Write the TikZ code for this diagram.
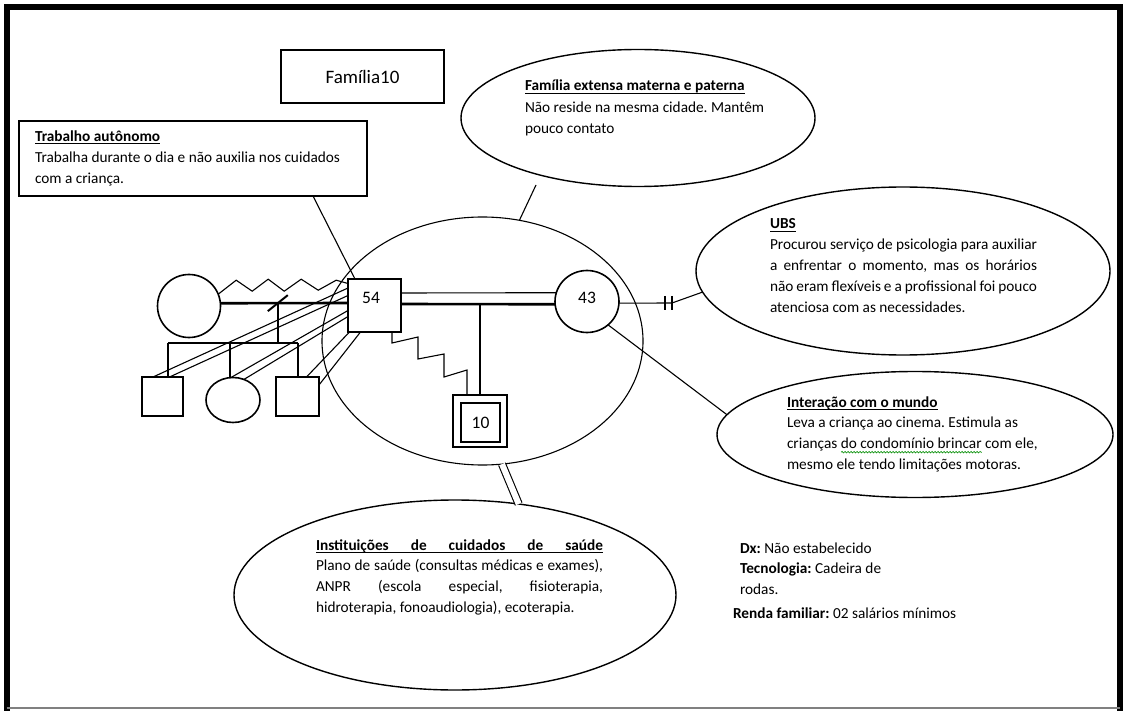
\documentclass[tikz,border=0pt]{standalone}
\usepackage{fontspec}
\setmainfont{Carlito}
\usetikzlibrary{shapes.geometric,calc,decorations.pathmorphing}

% natural interword spaces (the align key fixes them otherwise)
\newcommand{\plainsp}{\spaceskip=0pt\xspaceskip=0pt\frenchspacing}
% underlined heading: a rule at a fixed distance below the baseline
\newsavebox{\ulheadbox}
\newcommand{\ulhead}[1]{\sbox{\ulheadbox}{#1}\rlap{\rule[-2.6pt]{\wd\ulheadbox}{0.9pt}}\usebox{\ulheadbox}}
% green wavy underline under a group of words
\newsavebox{\squigbox}
\newlength{\squiglen}
\newcommand{\squig}[1]{\sbox{\squigbox}{#1}\setlength{\squiglen}{\wd\squigbox}%
  \rlap{\tikz[baseline=0pt]\draw[green!55!black,line width=0.6pt,decorate,
    decoration={snake,amplitude=0.8pt,segment length=3pt}] (0pt,-3.6pt) -- (\squiglen,-3.6pt);}%
  \usebox{\squigbox}}

\begin{document}
\begin{tikzpicture}[x=1pt,y=-1pt,
  every node/.style={inner sep=0pt,outer sep=0pt},
  body/.style={font=\fontsize{15.3}{20.8}\selectfont},
  txt/.style={body,align=left,anchor=base west},
  ln/.style={line width=1.1pt},
  thk/.style={line width=2.6pt},
  med/.style={line width=2pt},
  bubble/.style={draw,ellipse,line width=1.4pt},
  gsq/.style={draw,rectangle,line width=1.6pt,fill=white},
  gcirc/.style={draw,ellipse,line width=1.6pt,fill=white},
  num/.style={font=\fontsize{17.5}{18}\selectfont}]

\useasboundingbox (0,0) rectangle (1127,711);
\fill[white] (0,0) rectangle (1127,711);

% page frame
\draw[line width=6pt,line join=miter] (6.5,711) -- (6.5,7.5) -- (1120,7.5) -- (1120,711);
\draw[line width=2pt,black!50] (6.5,708) -- (1120,708);

% title and the work box
\node[draw,line width=1.2pt,minimum width=163,minimum height=53,
      font=\fontsize{19}{22}\selectfont] (title) at (362.5,76.5) {Família10};
\node[draw,line width=1.3pt,anchor=north west,minimum width=348,minimum height=75,
      text width=316,inner xsep=16,align=left,body] (trab) at (19,121)
  {\plainsp\ulhead{\textbf{Trabalho autônomo}}\\
   \mbox{Trabalha durante o dia e não auxilia nos cuidados}\\
   com a criança.};

% eco-map circles
\node[bubble,minimum width=354,minimum height=137] (ext) at (638,118) {};
\node[bubble,minimum width=414,minimum height=168] (ubs) at (903,271) {};
\node[bubble,line width=1.1pt,minimum width=321,minimum height=248] (central) at (482.5,341) {};
\node[bubble,minimum width=396,minimum height=126] (inter) at (915,434.5) {};
\node[bubble,minimum width=442,minimum height=190] (inst) at (455,595) {};

% texts of the circles
\node[txt,text width=300,font=\fontsize{15.3}{21.5}\selectfont] (exttxt) at (525,91)
  {\plainsp\ulhead{\textbf{Família extensa materna e paterna}}\\
   Não reside na mesma cidade. Mantêm\\
   pouco contato};
\node[txt,text width=267] (ubstxt) at (770,229)
  {\plainsp\ulhead{\textbf{UBS}}\\
   \makebox[\linewidth][s]{Procurou serviço de psicologia para auxiliar}\\
   \makebox[\linewidth][s]{a enfrentar o momento, mas os horários}\\
   \makebox[\linewidth][s]{não eram flexíveis e a profissional foi pouco}\\
   atenciosa com as necessidades.};
\node[txt,text width=300] (intertxt) at (787,407)
  {\plainsp\ulhead{\textbf{Interação com o mundo}}\\
   Leva a criança ao cinema. Estimula as\\
   crianças \squig{do condomínio brincar} com ele,\\
   mesmo ele tendo limitações motoras.};
\node[txt,text width=287] (insttxt) at (316,550)
  {\plainsp\ulhead{\makebox[\linewidth][s]{\textbf{Instituições de cuidados de saúde}}}\\
   \makebox[\linewidth][s]{Plano de saúde (consultas médicas e exames),}\\
   \makebox[\linewidth][s]{ANPR (escola especial, fisioterapia,}\\
   hidroterapia, fonoaudiologia), ecoterapia.};
\node[txt,text width=220] (dx) at (740,553)
  {\plainsp\textbf{Dx:} Não estabelecido\\
   \textbf{Tecnologia:} Cadeira de\\
   rodas.};
\node[txt,text width=300] (renda) at (733,618)
  {\plainsp\textbf{Renda familiar:} 02 salários mínimos};

% genogram members
\node[gsq,minimum width=53,minimum height=53] (p54) at (374.5,305.5) {};
\node[num] (t54) at (371,298) {54};
\node[gcirc,minimum width=64,minimum height=62] (p43) at (587,301.5) {};
\node[num] (t43) at (587,298) {43};
\node[gsq,minimum width=54,minimum height=52] (c10) at (480,421) {};
\node[gsq,minimum width=39,minimum height=39,num] (c10in) at (480.5,422.5) {10};
\node[gcirc,minimum width=63,minimum height=63] (w1) at (189,306) {};
\node[gsq,minimum width=41,minimum height=39] (k1) at (162.5,396.5) {};
\node[gcirc,minimum width=54,minimum height=45] (k2) at (233,400) {};
\node[gsq,minimum width=43,minimum height=39] (k3) at (297.5,396.5) {};

% first union, separated, and its children
\draw[thk] (w1.5.5) -- ([yshift=2.5pt]p54.west);
\coordinate (cpl) at ($(w1.5.5)!0.45!([yshift=2.5pt]p54.west)$);
\coordinate (sib) at ([yshift=-40pt]cpl);
\draw[med] ($(cpl)+(-10,8)$) -- ($(cpl)+(10,-8)$);
\draw[thk] (cpl) -- (sib);
\draw[thk] ([xshift=-109.5pt]sib) -- ([xshift=20.5pt]sib);
\draw[med] ([xshift=5.5pt]k1.north |- sib) -- ([xshift=5.5pt]k1.north);
\draw[med] ([xshift=-3pt]k2.north |- sib) -- ([xshift=-3pt]k2.north);
\draw[med] (k3.north |- sib) -- (k3.north);
\draw[ln] (w1.22) -- ++(18,-14) -- ++(16,11) -- ++(16,-12) -- ++(16,12)
  -- ++(17,-12) -- ++(17,11) -- ++(18,-10) -- ([yshift=22pt]p54.west);

% father to each child of the first union
\draw[ln] ([yshift=17.5pt]p54.west) -- ([xshift=-9.5pt]k1.north);
\draw[ln] ([yshift=10pt]p54.west) -- ([xshift=7pt]k1.north);
\draw[ln] ([yshift=-5pt]p54.west) -- ([xshift=-2pt]k2.north);
\draw[ln] ([yshift=-11pt]p54.west) -- (k2.62);
\draw[ln] ([xshift=-25pt]p54.south) -- ([xshift=9pt]k3.north);
\draw[ln] ([xshift=-14pt]p54.south) -- ([yshift=-8pt]k3.north east);

% current union and the child
\draw[ln] ([yshift=12.5pt]p54.east) -- (p43.164);
\draw[thk] ([yshift=1.5pt]p54.east) -- (p43.185);
\draw[thk] (c10.north |- p43.185) -- (c10.north);
\draw[ln] ([xshift=17.5pt]p54.south) -- ++(0,11) -- ++(26,-6) -- ++(0,22)
  -- ++(26,-5) -- ++(0,23) -- ++(23,-7) -- ([xshift=-13pt]c10.north);

% links to the outside
\draw[ln] ([xshift=294pt]trab.south west) -- ([xshift=7pt]p54.north west);
\coordinate (extfoot) at (536,185);
\draw[ln] (extfoot) -- (central.73);
\coordinate (cutA) at (665,303);
\coordinate (cutB) at (672,303);
\draw[ln] (p43.-3) -- (cutB) -- (ubs.186);
\draw[ln] ([yshift=7pt]cutA) -- ([yshift=-7pt]cutA);
\draw[ln] ([yshift=7pt]cutB) -- ([yshift=-7pt]cutB);
\draw[ln] (p43.-48) -- (inter.174);
\draw[ln,double,double distance=6pt] (central.-81) -- (inst.55);

\end{tikzpicture}
\end{document}
